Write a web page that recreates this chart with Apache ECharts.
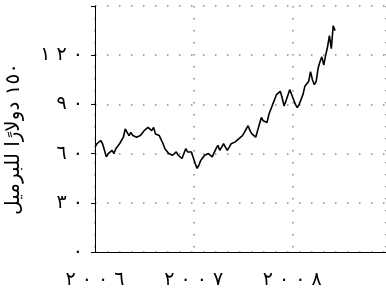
<!DOCTYPE html>
<html><head><meta charset="utf-8">
<script src="https://cdn.jsdelivr.net/npm/echarts@6/dist/echarts.min.js"></script>
<style>html,body{margin:0;padding:0;background:#fff}#c{width:386px;height:295px}</style>
</head><body><div id="c"></div>
<script>
// Weekly oil price (USD/barrel), starting first week of January 2006
var startYear = 2006;
var weeklyPrices = [64,66,67,68,66,62,58,60,61,62,60,63,64,66,67,70,75,73,71,73,71,72,70,69,71,72,74,73,76,77,74,76,72,73,71,70,66,63,62,60,61,59,59,61,59,60,57,60,63,61,62,61,60,54,51,53,56,57,59,58,60,59,58,57,63,65,62,64,66,64,62,64,66,65,67,67,69,70,71,73,75,77,74,72,71,70,74,78,82,80,81,79,84,87,90,93,96,95,98,94,89,92,93,99,96,93,90,88,90,89,96,101,102,104,110,105,102,104,112,116,119,114,120,125,132,124,138,135];
var yearTicks = [2006, 2007, 2008];
var yTicks = [0, 30, 60, 90, 120, 150];
var yTitle = '١٥٠ دولارًا للبرميل';

var digits = '٠١٢٣٤٥٦٧٨٩';
// Arabic-Indic digits, spaced apart; LRM marks keep the digit order left-to-right
function ar(n){
  return String(n).split('').map(function(d){ return digits[+d]; }).join('\u200E \u200E');
}
var seriesData = weeklyPrices.map(function(v, i){ return [startYear + i * 7 / 365.25, v]; });

var chart = echarts.init(document.getElementById('c'), null, {renderer: 'canvas'});
var font = 'DejaVu Sans';
chart.setOption({
  animation: false,
  grid: {left: 95, top: 6, right: 0, bottom: 43, containLabel: false, outerBoundsMode: 'none'},
  xAxis: {
    type: 'value', min: 2006, max: 2008.95, interval: 1,
    axisLine: {show: true, lineStyle: {color: '#000', width: 1}},
    axisTick: {show: false},
    axisLabel: {
      margin: 19, color: '#000', fontSize: 19, fontFamily: font,
      formatter: function(v){ return yearTicks.indexOf(v) >= 0 ? ar(v) : ''; }
    },
    splitLine: {show: true, lineStyle: {color: '#888', type: [1.5, 10.5], width: 1.5}}
  },
  yAxis: {
    type: 'value', min: 0, max: 150, interval: 30,
    name: yTitle, nameLocation: 'middle', nameRotate: 90, nameGap: 71,
    nameTextStyle: {fontSize: 20, color: '#000', fontFamily: font, padding: [0, 20, 0, 0]},
    axisLine: {show: true, lineStyle: {color: '#000', width: 1}},
    axisTick: {show: true, length: 4, lineStyle: {color: '#000'}},
    axisLabel: {
      margin: 12, color: '#000', fontSize: 19, fontFamily: font,
      formatter: function(v){ return v === 150 ? '' : ar(v); }
    },
    splitLine: {show: true, lineStyle: {color: '#888', type: [1.5, 10.5], width: 1.5}}
  },
  series: [{
    type: 'line', data: seriesData, showSymbol: false, symbol: 'none',
    lineStyle: {color: '#000', width: 1.6}
  }]
});
</script></body></html>
